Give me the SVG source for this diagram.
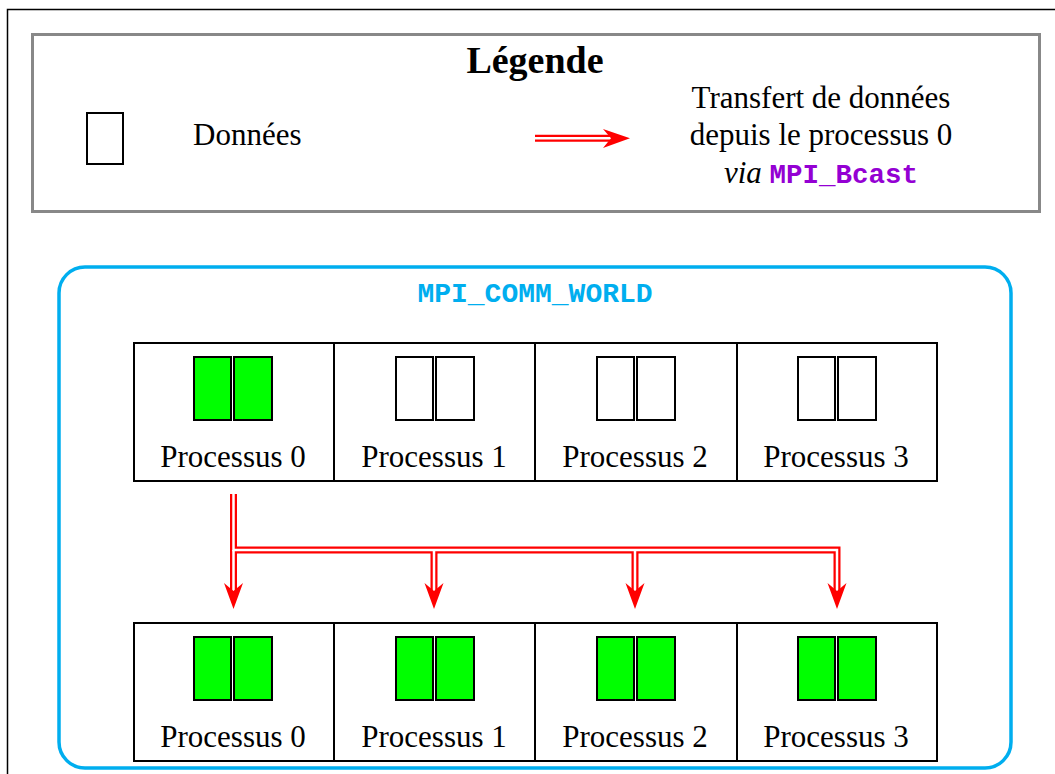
<svg xmlns="http://www.w3.org/2000/svg" width="1055" height="774" viewBox="0 0 1055 774">
<defs>
<style>
.serif{font-family:"Liberation Serif","Times New Roman",serif;fill:#000}
.mono{font-family:"Liberation Mono","Courier New",monospace;font-weight:bold}
.box{fill:#fff;stroke:#000;stroke-width:2}
.data{stroke:#000;stroke-width:2}
.full{fill:#00ff00}
.empty{fill:#fff}
.pl{font-size:31px;text-anchor:middle}
.rl{fill:none;stroke:#ff0000;stroke-width:7}
.wl{fill:none;stroke:#fff;stroke-width:2.5}
.head{fill:#ff0000}
</style>
</defs>
<rect x="0" y="0" width="1055" height="774" fill="#fff"/>
<rect x="7.5" y="9.5" width="1060" height="780" fill="none" stroke="#000" stroke-width="1.5"/>

<g id="legend">
<rect x="32.5" y="34.5" width="1007" height="177" fill="#fff" stroke="#888" stroke-width="3"/>
<text class="serif" x="535" y="73" font-size="38" font-weight="bold" text-anchor="middle">Légende</text>
<rect x="87" y="113" width="36" height="51" fill="#fff" stroke="#000" stroke-width="2"/>
<text class="serif" x="193" y="145" font-size="31">Données</text>
<path class="rl" d="M535,138.3 H610"/>
<path class="wl" d="M533,138.3 H612"/>
<polygon class="head" points="630,138.3 603,129 611,138.3 603,148"/>
<text class="serif" x="821" y="108" font-size="31" text-anchor="middle">Transfert de données</text>
<text class="serif" x="821" y="145" font-size="31" text-anchor="middle">depuis le processus 0</text>
<text x="821" y="183" text-anchor="middle"><tspan class="serif" font-size="31" font-style="italic">via </tspan><tspan class="mono" font-size="27.5" fill="#9400d3">MPI_Bcast</tspan></text>
</g>

<g id="comm">
<rect x="59" y="267" width="952" height="501" rx="26" ry="26" fill="none" stroke="#00aeef" stroke-width="3.5"/>
<text class="mono" x="535" y="302" font-size="28" fill="#00aeef" text-anchor="middle">MPI_COMM_WORLD</text>
</g>

<g id="p0-before">
<rect class="box" x="134" y="343" width="200" height="138"/>
<rect class="data full" x="194" y="357" width="37" height="63"/>
<rect class="data full" x="234" y="357" width="38" height="63"/>
<text class="serif pl" x="233" y="467">Processus 0</text>
</g>
<g id="p1-before">
<rect class="box" x="334" y="343" width="201" height="138"/>
<rect class="data empty" x="396" y="357" width="37" height="63"/>
<rect class="data empty" x="436" y="357" width="38" height="63"/>
<text class="serif pl" x="434" y="467">Processus 1</text>
</g>
<g id="p2-before">
<rect class="box" x="535" y="343" width="202" height="138"/>
<rect class="data empty" x="597" y="357" width="37" height="63"/>
<rect class="data empty" x="637" y="357" width="38" height="63"/>
<text class="serif pl" x="635" y="467">Processus 2</text>
</g>
<g id="p3-before">
<rect class="box" x="737" y="343" width="200" height="138"/>
<rect class="data empty" x="798" y="357" width="37" height="63"/>
<rect class="data empty" x="838" y="357" width="38" height="63"/>
<text class="serif pl" x="836" y="467">Processus 3</text>
</g>

<g id="p0-after">
<rect class="box" x="134" y="623" width="200" height="138"/>
<rect class="data full" x="194" y="637" width="37" height="63"/>
<rect class="data full" x="234" y="637" width="38" height="63"/>
<text class="serif pl" x="233" y="747">Processus 0</text>
</g>
<g id="p1-after">
<rect class="box" x="334" y="623" width="201" height="138"/>
<rect class="data full" x="396" y="637" width="37" height="63"/>
<rect class="data full" x="436" y="637" width="38" height="63"/>
<text class="serif pl" x="434" y="747">Processus 1</text>
</g>
<g id="p2-after">
<rect class="box" x="535" y="623" width="202" height="138"/>
<rect class="data full" x="597" y="637" width="37" height="63"/>
<rect class="data full" x="637" y="637" width="38" height="63"/>
<text class="serif pl" x="635" y="747">Processus 2</text>
</g>
<g id="p3-after">
<rect class="box" x="737" y="623" width="200" height="138"/>
<rect class="data full" x="798" y="637" width="37" height="63"/>
<rect class="data full" x="838" y="637" width="38" height="63"/>
<text class="serif pl" x="836" y="747">Processus 3</text>
</g>

<g id="connectors">
<path class="rl" d="M233.5,494 V550 H837 V592"/>
<path class="rl" d="M233.5,550 V592 M434,550 V592 M635,550 V592"/>
<path class="wl" d="M233.5,492 V550 H837 V594"/>
<path class="wl" d="M233.5,550 V594 M434,550 V594 M635,550 V594"/>
<polygon class="head" points="233.5,609 224,583 233.5,591 243,583"/>
<polygon class="head" points="434,609 424.5,583 434,591 443.5,583"/>
<polygon class="head" points="635,609 625.5,583 635,591 644.5,583"/>
<polygon class="head" points="837,609 827.5,583 837,591 846.5,583"/>
</g>
</svg>
